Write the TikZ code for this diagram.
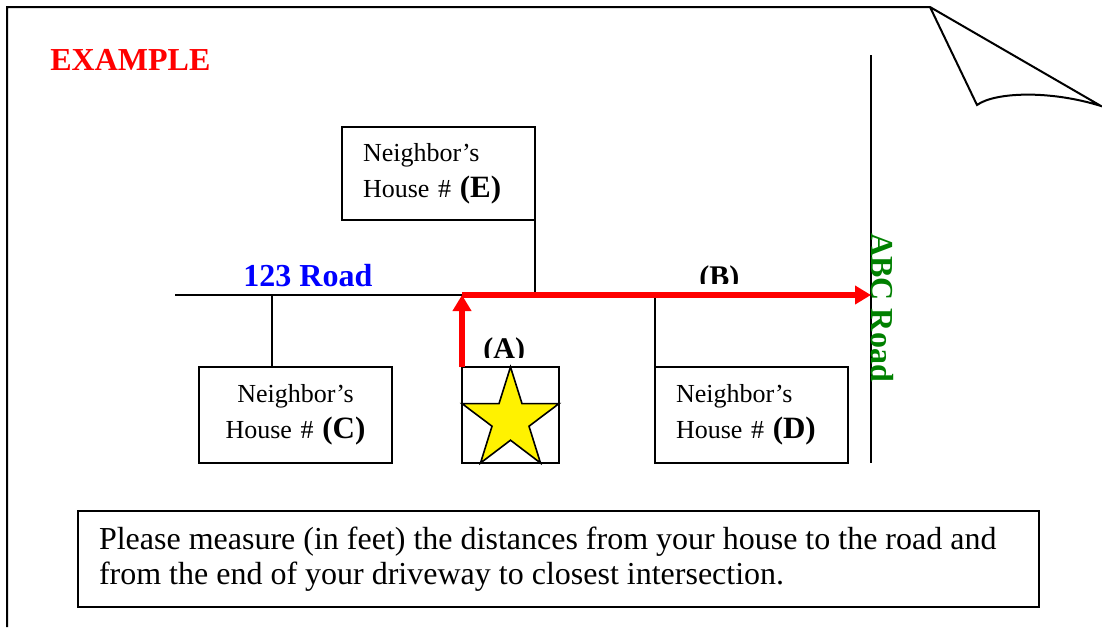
\documentclass[tikz,border=0pt]{standalone}
\usepackage{fontspec}
\setmainfont{Liberation Serif}
\usepackage{tikz}
\usetikzlibrary{positioning,arrows.meta}
\definecolor{roadgreen}{RGB}{0,128,0}
\newcommand\nbrfont{\fontsize{13}{18}\selectfont}
\newcommand\houseid[1]{{\fontsize{15.5}{18}\selectfont\bfseries(#1)}}

\begin{document}
\begin{tikzpicture}[x=0.5pt,y=-0.5pt,
	house/.style={draw, line width=1pt, outer sep=0pt, minimum width=96.5pt, minimum height=48pt, inner xsep=10.5pt, text width=75.5pt, font=\nbrfont},
	home node/.style={draw, line width=1pt, outer sep=0pt, minimum width=48.5pt, minimum height=48pt},
	road/.style={line width=1pt},
	route/.style={red, line width=2.75pt, -{Triangle[length=8pt,width=9pt]}},
	road name/.style={font=\fontsize{16}{19}\selectfont\bfseries, inner sep=0pt, anchor=base west},
	leg name/.style={font=\fontsize{15}{18}\selectfont\bfseries, inner sep=0pt, anchor=base west}]

	\useasboundingbox (0,0) rectangle (1102,627);

	% page with folded corner
	\coordinate (pageBL) at (7,627);
	\coordinate (pageTL) at (7,7);
	\coordinate (foldA) at (930,7);
	\coordinate (foldB) at (977,105);
	\coordinate (foldC) at (1101,106);
	\draw[road] (pageBL) -- (pageTL) -- (foldA) -- (foldC)
		.. controls (1050,90) and (995,92) .. (foldB) -- (foldA);

	\node[road name, red](title) at (50,70){EXAMPLE};

	% roads
	\coordinate (roadW) at (175,295);
	\coordinate (drive) at (462,295);
	\coordinate (cross) at (871,295);
	\coordinate (abcN) at (871,55);
	\coordinate (abcS) at (871,463);
	\draw[road] (roadW) -- (drive);
	\draw[road] (abcN) -- (abcS);
	\node[road name, blue](road1) at (243,286){123 Road};
	\node[road name, roadgreen, rotate=-90](road2) at (871,233){ABC Road};

	% houses
	\node[home node](home) at (510.5,415){};
	\node[house, align=center](nbC)[left = 35pt of home]{Neighbor’s\\House \# \houseid{C}};
	\node[house, align=left](nbD)[right = 48pt of home]{Neighbor’s\\House \# \houseid{D}};
	\node[house, align=left, minimum height=46.5pt](nbE) at (438.5,173.5){Neighbor’s\\House \# \houseid{E}};
	\draw[fill=yellow, line width=0.8pt] (510.5,367) -- (522,403.6) -- (559,403.6) -- (529,426.2)
		-- (540.5,463) -- (510.5,440.2) -- (480.5,463) -- (492,426.2) -- (462,403.6)
		-- (499,403.6) -- cycle;

	\draw[road] ([xshift=-12pt]nbC.north) -- ([xshift=-12pt]nbC.north |- drive);
	\draw[road] (nbD.north west) -- (nbD.north west |- drive);
	\draw[road] (nbE.south east) -- (nbE.south east |- drive);

	% route to the intersection
	\draw[route] (home.north west) -- (drive);
	\draw[route] (drive) -- (cross);
	\begin{scope}
		\clip (470,320) rectangle (540,357);
		\node[leg name](legA) at (483,358){(A)};
	\end{scope}
	\begin{scope}
		\clip (690,250) rectangle (750,283);
		\node[leg name](legB) at (699,286){(B)};
	\end{scope}

	\node[draw, line width=1pt, outer sep=0pt, minimum width=480.5pt, minimum height=48pt, text width=459.5pt, inner xsep=10.5pt, align=left, font=\fontsize{16}{17.5}\selectfont](note) at (558.5,559){\spaceskip=0pt\xspaceskip=0pt\relax
		Please measure (in feet) the distances from your house to the road and\\from the end of your driveway to closest intersection.};
\end{tikzpicture}
\end{document}
